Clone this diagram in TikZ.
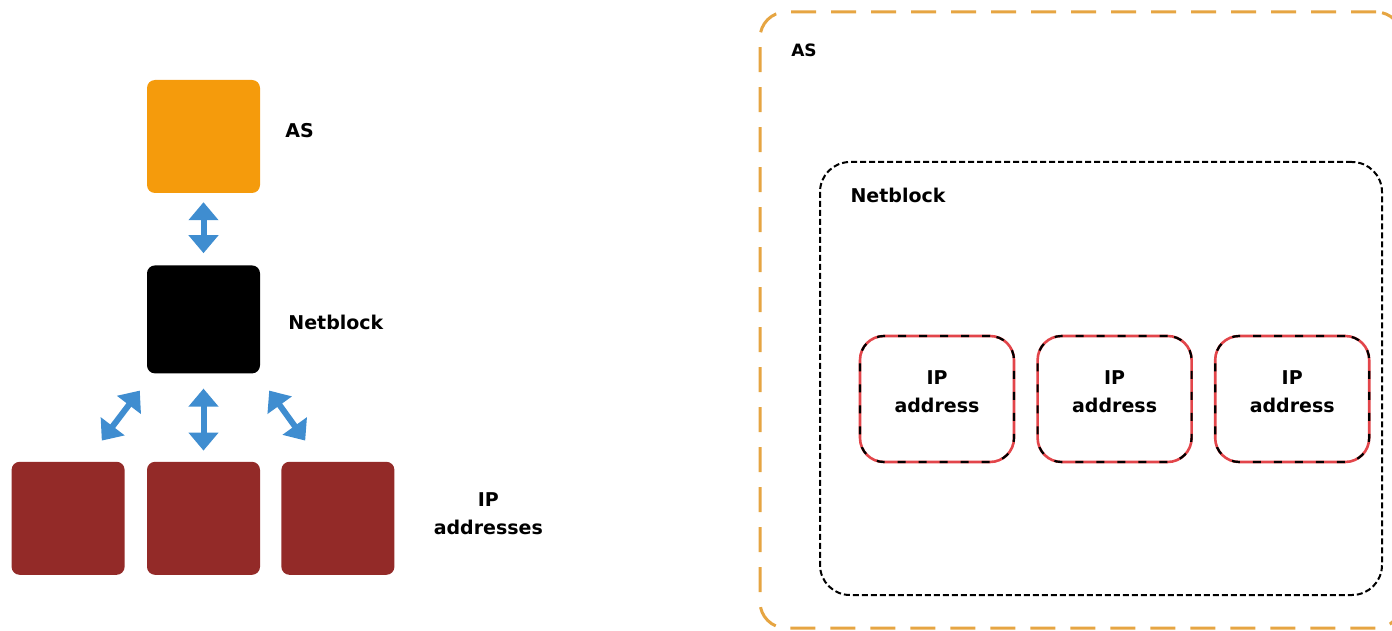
\documentclass[tikz,border=0pt]{standalone}
\usepackage{fontspec}
\setmainfont{DejaVu Sans}
\usetikzlibrary{positioning,arrows.meta}

\definecolor{asorange}{HTML}{F59B0C}
\definecolor{asdash}{HTML}{E6A542}
\definecolor{ipred}{HTML}{932A28}
\definecolor{ipline}{HTML}{E2454A}
\definecolor{arrowblue}{HTML}{3F8DD0}

\tikzset{
  block/.style={minimum width=113pt,minimum height=113pt,inner sep=0pt,rounded corners=8pt},
  lbl/.style={font=\bfseries\fontsize{19}{28}\selectfont,align=center,inner sep=0pt},
  biarrow/.style={draw=arrowblue,line width=6pt,{Triangle[width=29pt,length=18pt]}-{Triangle[width=29pt,length=18pt]}},
  ipframe/.style={draw=ipline,line width=2.6pt,rounded corners=24pt,minimum width=154pt,minimum height=126pt,
    postaction={draw=black,line width=2.2pt,dash pattern=on 8pt off 13pt}}
}

\begin{document}
\begin{tikzpicture}[x=1pt,y=-1pt]
            \useasboundingbox (0,0) rectangle (1392,631);
            % left: hierarchy
            \node[block,fill=asorange] (as) at (203.5,136.5) {};
            \node[block,fill=black,minimum height=108pt] (net) [below=72pt of as] {};
            \node[block,fill=ipred] (ipb) [below=88pt of net] {};
            \node[block,fill=ipred] (ipa) [left=22pt of ipb] {};
            \node[block,fill=ipred] (ipc) [right=21pt of ipb] {};
            \node[lbl] (aslbl) [right=25pt of as,yshift=6pt] {AS};
            \node[lbl] (netlbl) [right=28pt of net,yshift=-3pt] {Netblock};
            \node[lbl] (iplbl) [right=39pt of ipc,yshift=5pt] {IP\\addresses};

            \draw[biarrow] ([yshift=-9pt]as.south) -- ([yshift=12pt]net.north);
            \draw[biarrow] ([yshift=-15pt]net.south) -- ([yshift=11pt]ipb.north);
            \draw[biarrow] ([shift={(-7,17)}]net.south west) -- ([shift={(-23,-21)}]ipa.north east);
            \draw[biarrow] ([shift={(9,17)}]net.south east) -- ([shift={(24,-21)}]ipc.north west);

            % right: nesting
            \node[draw=asdash,line width=3pt,dash pattern=on 25pt off 15pt,rounded corners=26pt,
                  minimum width=642pt,minimum height=616pt] (asbox) at (1081,320) {};
            \node[lbl,font=\bfseries\fontsize{17}{20}\selectfont] (asboxlbl) at (804,50) {AS};
            \node[draw=black,line width=2pt,dash pattern=on 6pt off 3pt,rounded corners=30pt,
                  minimum width=562pt,minimum height=433pt] (netbox) at (1101,378.5) {};
            \node[lbl] (netboxlbl) at (898,195) {Netblock};
            \node[ipframe] (ipbox1) at (937,399) {};
            \node[ipframe] (ipbox2) [right=21pt of ipbox1] {};
            \node[ipframe] (ipbox3) [right=21pt of ipbox2] {};
            \foreach \i in {1,2,3}
              \node[lbl] at ([yshift=7pt]ipbox\i.center) {IP\\address};
\end{tikzpicture}
\end{document}
